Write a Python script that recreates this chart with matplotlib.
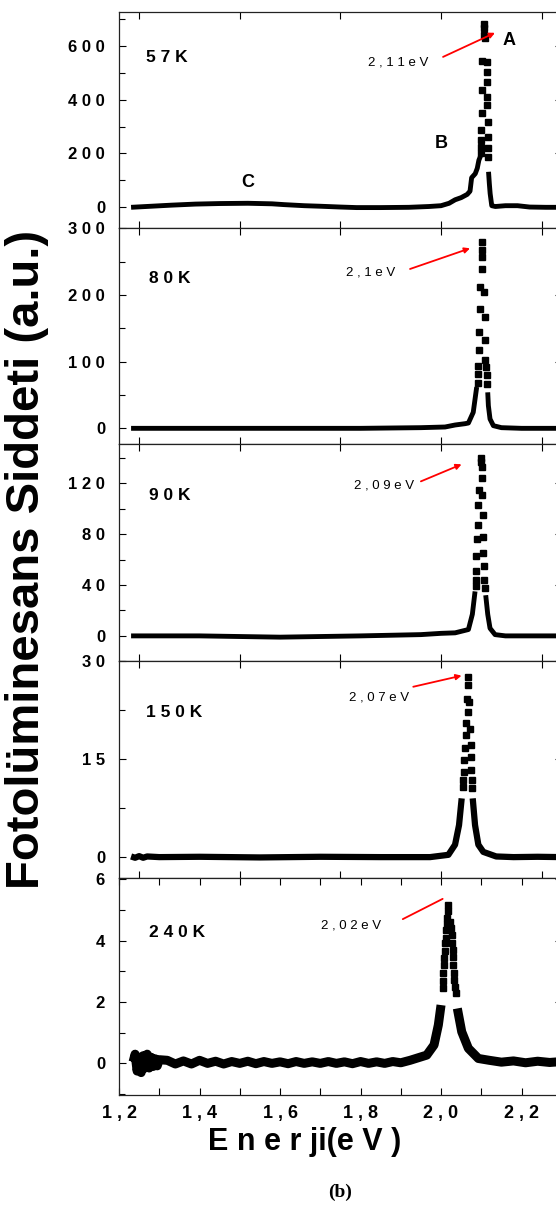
import numpy as np
import matplotlib
matplotlib.use("Agg")
import matplotlib.pyplot as plt
from matplotlib.ticker import MultipleLocator, FuncFormatter, FixedLocator

plt.rcParams['font.family'] = ['Liberation Sans', 'DejaVu Sans']
plt.rcParams['font.weight'] = 'bold'

nan = float('nan')

# ---- data (energy in eV, intensity in a.u.) ----
# 57 K
e57_line = [1.23, 1.28, 1.33, 1.39, 1.45, 1.52, 1.58, 1.61, 1.66, 1.70, 1.75, 1.79, 1.85, 1.92, 1.97,
            2.00, 2.02, 2.035, 2.05, 2.065, 2.072, 2.076, 2.085, 2.090, 2.094, 2.098, nan,
            2.118, 2.120, 2.122, 2.126, 2.135, 2.16, 2.19, 2.22, 2.26, 2.30]
i57_line = [0, 4, 8, 12, 14, 15, 13, 10, 6, 4, 1, -1, -1, 0, 3,
            6, 15, 28, 36, 48, 60, 110, 125, 145, 175, 190, nan,
            132, 88, 51, 6, 3, 6, 6, 1, 0, 0]
e57_pts = [2.0990, 2.0994, 2.0998, 2.1002, 2.1010, 2.1020, 2.1027, 2.1072, 2.1076, 2.1078,
           2.1100, 2.1135, 2.1140, 2.1145, 2.1150, 2.1150, 2.1155, 2.1160, 2.1165, 2.1170]
i57_pts = [200, 225, 252, 289, 349, 436, 542, 641, 665, 680,
           628, 541, 502, 467, 411, 380, 318, 262, 219, 187]

# 80 K
e80_line = [1.23, 1.40, 1.60, 1.80, 1.95, 2.01, 2.035, 2.06, 2.068, 2.080, 2.0886, nan,
            2.116, 2.1176, 2.1217, 2.130, 2.15, 2.20, 2.30]
i80_line = [0, 0, 0, 0, 1, 2, 5, 7, 8, 24, 62, nan,
            54, 34, 14, 4, 1, 0, 0]
e80_pts = [2.0911, 2.0927, 2.0927, 2.0944, 2.0952, 2.0969, 2.0969, 2.1027, 2.1027, 2.1027, 2.1027,
           2.1076, 2.1093, 2.1093, 2.1100, 2.1118, 2.1135, 2.1135]
i80_pts = [68, 82, 94, 117, 145, 179, 212, 239, 257, 268, 279,
           204, 167, 132, 103, 92, 80, 67]

# 90 K
e90_line = [1.23, 1.40, 1.60, 1.80, 1.95, 2.00, 2.035, 2.068, 2.0778, 2.0845, nan,
            2.111, 2.116, 2.1217, 2.1342, 2.16, 2.22, 2.30]
i90_line = [0, 0, -1, 0, 1, 2, 2.4, 5, 17, 35, nan,
            32, 17, 6, 1, 0, 0, 0]
e90_pts = [2.0861, 2.0861, 2.0870, 2.0870, 2.0886, 2.0911, 2.0927, 2.0952, 2.1010, 2.1010, 2.0994, 2.0994,
           2.1027, 2.1052, 2.1052, 2.1052, 2.1076, 2.1076, 2.1093]
i90_pts = [39, 44, 51, 63, 76, 87, 103, 115, 124, 133, 137, 140,
           111, 95, 78, 65, 55, 44, 38]

# 150 K
e150_line = [1.23, 1.24, 1.25, 1.26, 1.27, 1.30, 1.40, 1.55, 1.70, 1.85, 1.9727, 2.0182, 2.0348, 2.0447, 2.0513, nan,
             2.0787, 2.0845, 2.0927, 2.105, 2.137, 2.18, 2.24, 2.30]
i150_line = [0.1, -0.1, 0.15, -0.1, 0.1, 0, 0.05, -0.05, 0.05, 0, 0, 0.35, 1.9, 4.9, 9.0, nan,
             9.0, 4.9, 1.9, 0.8, 0.1, 0, 0.05, 0]
e150_pts = [2.0538, 2.0554, 2.0571, 2.0579, 2.0596, 2.0621, 2.0621, 2.0654, 2.0679, 2.0679,
            2.0703, 2.0679, 2.0720, 2.0737, 2.0737, 2.0745, 2.0762, 2.0762]
i150_pts = [10.8, 11.8, 13.1, 14.9, 16.7, 18.7, 20.5, 24.3, 26.4, 27.6,
            23.8, 22.3, 19.7, 17.2, 15.4, 13.4, 11.8, 10.6]

# 240 K
e240_line = [1.235, 1.240, 1.245, 1.250, 1.255, 1.260, 1.265, 1.270, 1.275, 1.280, 1.285, 1.290, 1.295, 1.300,
             1.32, 1.34, 1.36, 1.38, 1.40, 1.42, 1.44, 1.46, 1.48, 1.50, 1.52, 1.54, 1.56, 1.58, 1.60,
             1.62, 1.64, 1.66, 1.68, 1.70, 1.72, 1.74, 1.76, 1.78, 1.80, 1.82, 1.84, 1.86, 1.88, 1.90,
             1.923, 1.9645, 1.9826, 1.9933, 2.000, nan,
             2.0405, 2.0514, 2.0679, 2.0927, 2.12, 2.15, 2.18, 2.21, 2.24, 2.27, 2.30]
i240_line = [0.05, 0.3, -0.25, 0.2, -0.3, 0.25, -0.15, 0.3, -0.15, 0.2, -0.1, 0.15, -0.08, 0.12,
             0.1, -0.02, 0.08, -0.02, 0.1, 0.0, 0.07, -0.02, 0.06, 0.0, 0.07, -0.01, 0.06, 0.0, 0.05,
             -0.01, 0.06, 0.0, 0.05, 0.0, 0.06, 0.0, 0.05, -0.01, 0.06, 0.0, 0.05, 0.0, 0.06, 0.02,
             0.1, 0.27, 0.6, 1.25, 1.9, nan,
             1.79, 1.03, 0.49, 0.16, 0.1, 0.04, 0.08, 0.02, 0.07, 0.03, 0.06]
e240_pts = [2.0042, 2.0050, 2.0057, 2.0066, 2.0074, 2.0087, 2.0099, 2.0112, 2.0124, 2.0140, 2.0157, 2.0170, 2.0182,
            2.0224, 2.0245, 2.0266, 2.0280, 2.0291, 2.0300, 2.0306, 2.0320, 2.0331, 2.0350, 2.0365]
i240_pts = [2.45, 2.70, 2.93, 3.20, 3.42, 3.65, 3.91, 4.10, 4.35, 4.55, 4.73, 4.95, 5.17,
            4.62, 4.40, 4.18, 3.93, 3.69, 3.45, 3.20, 2.95, 2.72, 2.50, 2.28]

temps = ['5 7 K', '8 0 K', '9 0 K', '1 5 0 K', '2 4 0 K']
peak_labels = ['2 , 1 1 e V', '2 , 1 e V', '2 , 0 9 e V', '2 , 0 7 e V', '2 , 0 2 e V']
ylims = [(-78, 727), (-23.5, 300), (-20, 151), (-3.2, 30), (-1.03, 6.04)]
ymajor = [200, 100, 40, 15, 2]
yminor = [100, 50, 20, 7.5, 1]

# label / arrow placement (data coords)
temp_xy = [(1.318, 555), (1.325, 225), (1.325, 110.8), (1.338, 22.2), (1.343, 4.28)]
plab_xy = [(1.893, 537), (1.826, 233), (1.858, 118.7), (1.847, 24.5), (1.776, 4.48)]
arrow_from = [(2.005, 559), (1.923, 239), (1.950, 121.6), (1.931, 26.1), (1.905, 4.70)]
arrow_to = [(2.134, 648.5), (2.072, 270), (2.051, 135), (2.051, 27.8), (2.004, 5.36)]

lines = [(e57_line, i57_line), (e80_line, i80_line), (e90_line, i90_line),
         (e150_line, i150_line), (e240_line, i240_line)]
points = [(e57_pts, i57_pts), (e80_pts, i80_pts), (e90_pts, i90_pts),
          (e150_pts, i150_pts), (e240_pts, i240_pts)]
line_w = [3.5, 3.5, 3.5, 4.5, 6.5]

W, H = 556, 1209
bounds = [(11.7, 228.3), (228.3, 444), (444, 661.3), (661.3, 878), (878, 1095)]
left_px, right_px = 119, 561.8

fig = plt.figure(figsize=(W / 100, H / 100), dpi=100)

def spaced(v, pos):
    return ' '.join(str(int(round(v))))

def xfmt(v, pos):
    s = f'{v:.1f}'.replace('.', ',')
    return ' '.join(s)

for k in range(5):
    top, bot = bounds[k]
    ax = fig.add_axes([left_px / W, 1 - bot / H, (right_px - left_px) / W, (bot - top) / H])
    ex, iy = lines[k]
    ax.plot(ex, iy, color='black', lw=line_w[k], solid_capstyle='butt', solid_joinstyle='round')
    px, py = points[k]
    ax.plot(px, py, ls='none', marker='s', ms=3.8, color='black', mec='black')
    ax.set_xlim(1.2, 2.3)
    ax.set_ylim(*ylims[k])

    ax.yaxis.set_major_locator(MultipleLocator(ymajor[k]))
    ax.yaxis.set_minor_locator(MultipleLocator(yminor[k]))
    ax.yaxis.set_major_formatter(FuncFormatter(spaced))
    ax.tick_params(axis='y', which='both', direction='in', left=True, right=True,
                   labelsize=12, pad=10)
    ax.tick_params(axis='y', which='major', length=5, width=0.8)
    ax.tick_params(axis='y', which='minor', length=4, width=0.8)

    if k < 4:
        ax.xaxis.set_major_locator(FixedLocator([1.25, 1.5, 1.75, 2.0, 2.25]))
        ax.tick_params(axis='x', which='both', direction='in', top=True, bottom=True,
                       labelbottom=False, length=5, width=0.8)
    else:
        ax.xaxis.set_major_locator(MultipleLocator(0.2))
        ax.xaxis.set_minor_locator(MultipleLocator(0.1))
        ax.xaxis.set_major_formatter(FuncFormatter(xfmt))
        ax.tick_params(axis='x', which='both', direction='in', top=True, bottom=True,
                       length=5, width=0.8, labelsize=13, pad=7)

    for sp in ax.spines.values():
        sp.set_linewidth(0.9)
        sp.set_color('#222222')

    ax.text(*temp_xy[k], temps[k], ha='center', va='center', fontsize=12.5, fontweight='bold')
    ax.text(*plab_xy[k], peak_labels[k], ha='center', va='center', fontsize=9.5, fontweight='normal')
    style = '-' if k == 4 else '-|>'
    ax.annotate('', xy=arrow_to[k], xytext=arrow_from[k],
                arrowprops=dict(arrowstyle=style, color='red', lw=1.3, mutation_scale=8,
                                shrinkA=0, shrinkB=0))
    if k == 0:
        ax.text(2.169, 619, 'A', ha='center', va='center', fontsize=13, fontweight='bold')
        ax.text(2.0, 238, 'B', ha='center', va='center', fontsize=13, fontweight='bold')
        ax.text(1.52, 93, 'C', ha='center', va='center', fontsize=13, fontweight='bold')

fig.text(305 / W, 1 - 1142 / H, 'E n e r ji(e V )', ha='center', va='center',
         fontsize=22, fontweight='bold')
fig.text(27 / W, 1 - 559 / H, 'Fotolüminesans Siddeti (a.u.)', rotation=90,
         ha='center', va='center', fontsize=34, fontweight='bold')
fig.text(340 / W, 1 - 1192 / H, '(b)', ha='center', va='center', fontsize=14,
         fontweight='bold', family=['Liberation Serif', 'DejaVu Serif'])

fig.savefig('out.png', dpi=100)
